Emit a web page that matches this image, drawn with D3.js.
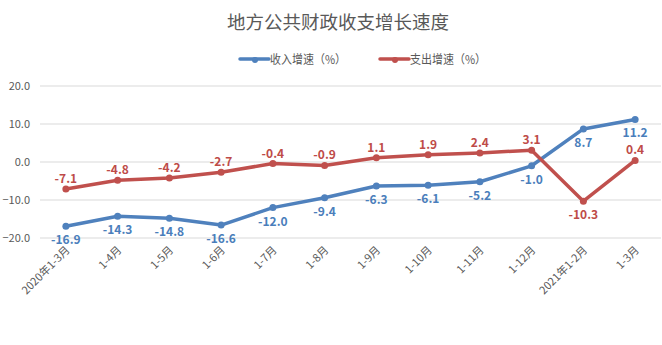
<!DOCTYPE html>
<html><head><meta charset="utf-8">
<script src="https://cdn.jsdelivr.net/npm/d3@7"></script>
<style>body{margin:0;background:#fff}svg{display:block}</style>
</head><body>
<script>
const categories = ["2020年1-3月","1-4月","1-5月","1-6月","1-7月","1-8月","1-9月","1-10月","1-11月","1-12月","2021年1-2月","1-3月"];
const income = [-16.9,-14.3,-14.8,-16.6,-12.0,-9.4,-6.3,-6.1,-5.2,-1.0,8.7,11.2];
const expense = [-7.1,-4.8,-4.2,-2.7,-0.4,-0.9,1.1,1.9,2.4,3.1,-10.3,0.4];
const yTicks = [-20,-10,0,10,20];
const expenseLabelBelow = [false,false,false,false,false,false,false,false,false,false,true,false];

const W=662,H=345;
const font = "'Microsoft YaHei','Noto Sans CJK SC',sans-serif";
const svg=d3.select("body").append("svg").attr("width",W).attr("height",H);
const x=d3.scaleBand().domain(categories).range([40,661]);
const y=d3.scaleLinear().domain([-20,20]).range([238,86]);

svg.append("text").attr("x",338).attr("y",29).attr("text-anchor","middle")
  .attr("font-family",font).attr("font-size",18.5).attr("fill","#595959").text("地方公共财政收支增长速度");

// grid
svg.append("g").selectAll("line").data(yTicks).join("line")
  .attr("x1",40).attr("x2",661).attr("y1",d=>y(d)).attr("y2",d=>y(d))
  .attr("stroke","#d9d9d9").attr("stroke-width",1);
const yAxis=d3.axisLeft(y).tickValues(yTicks).tickFormat(d3.format(".1f")).tickSize(0).tickPadding(0);
const ga=svg.append("g").attr("transform","translate(30,0)").call(yAxis);
ga.select(".domain").remove();
ga.selectAll("text").attr("font-family",font).attr("font-size",11).attr("fill","#595959");

const xAxis=d3.axisBottom(x).tickSize(0).tickPadding(0);
const gx=svg.append("g").attr("transform","translate(2,248)").call(xAxis);
gx.select(".domain").remove();
gx.selectAll("text").attr("font-family",font).attr("font-size",11).attr("fill","#595959")
  .attr("text-anchor","end").attr("dy","0.35em").attr("transform","rotate(-45)");

const cx=d=>x(d)+x.bandwidth()/2;
function series(vals,color,labColor,belowFn){
  const line=d3.line().x((d,i)=>cx(categories[i])).y(d=>y(d));
  svg.append("path").datum(vals).attr("d",line).attr("fill","none").attr("stroke",color)
    .attr("stroke-width",3.5).attr("stroke-linejoin","round").attr("stroke-linecap","round");
  svg.append("g").selectAll("circle").data(vals).join("circle")
    .attr("cx",(d,i)=>cx(categories[i])).attr("cy",d=>y(d)).attr("r",3.5).attr("fill",color);
  svg.append("g").selectAll("text").data(vals).join("text")
    .attr("x",(d,i)=>cx(categories[i])).attr("y",(d,i)=>y(d)+(belowFn(i)?18:-6))
    .attr("text-anchor","middle").attr("font-family",font).attr("font-size",12).attr("font-weight","bold")
    .attr("fill",labColor).text(d=>d.toFixed(1));
}
series(income,"#4f81bd","#4a7ebb",()=>true);
series(expense,"#c0504d","#be4b48",i=>expenseLabelBelow[i]);

// legend
const leg=[{t:"收入增速（%）",c:"#4f81bd",x:240},{t:"支出增速（%）",c:"#c0504d",x:380}];
const lg=svg.append("g");
leg.forEach(l=>{
  const lx = l.x;
  lg.append("line").attr("x1",lx).attr("x2",lx+29).attr("y1",59).attr("y2",59).attr("stroke",l.c).attr("stroke-width",3.5).attr("stroke-linecap","round");
  lg.append("circle").attr("cx",lx+15).attr("cy",60).attr("r",3).attr("fill",l.c);
  lg.append("text").attr("x",lx+30).attr("y",63.5).attr("font-family",font).attr("font-size",12)
    .attr("textLength",76).attr("lengthAdjust","spacingAndGlyphs").attr("fill","#595959").text(l.t);
});
</script>
</body></html>
